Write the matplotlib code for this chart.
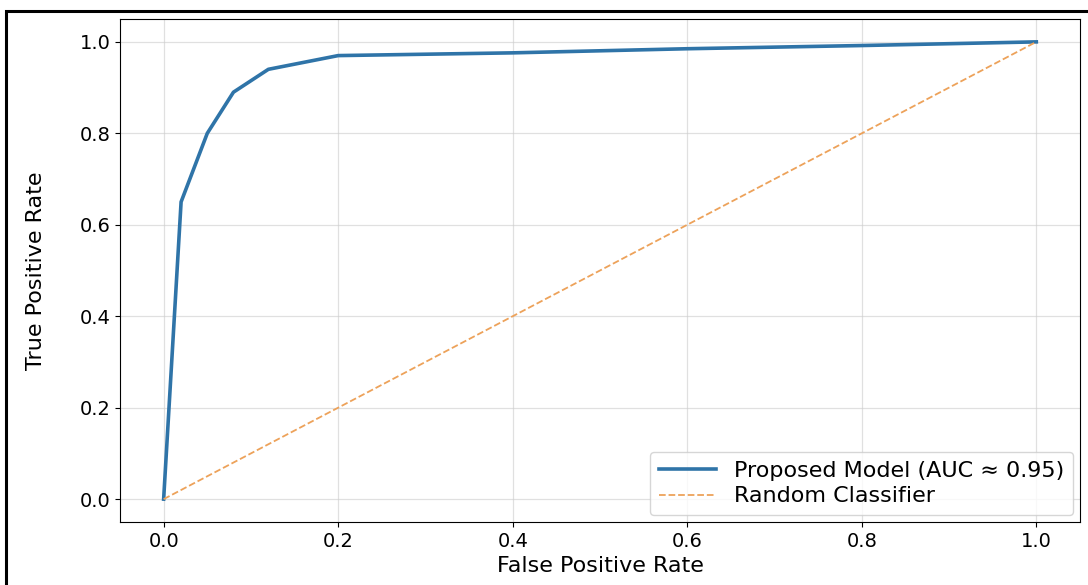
import matplotlib.pyplot as plt
from matplotlib.patches import Rectangle

# ROC curve points
fpr = [0.0, 0.02, 0.05, 0.08, 0.12, 0.20, 0.40, 0.60, 0.80, 1.0]
tpr = [0.0, 0.65, 0.80, 0.89, 0.94, 0.97, 0.976, 0.985, 0.992, 1.0]
chance = [0.0, 1.0]

model_label = 'Proposed Model (AUC \u2248 0.95)'
chance_label = 'Random Classifier'

fig = plt.figure(figsize=(10.88, 5.85), dpi=100)
ax = fig.add_axes([0.1103, 0.1077, 0.8823, 0.8598])

ax.plot(fpr, tpr, color='#2f74a8', linewidth=2.6, label=model_label)
ax.plot(chance, chance, color='#eda25a', linestyle='--', linewidth=1.3, label=chance_label)

ax.set_xlabel('False Positive Rate', fontsize=16, labelpad=4)
ax.set_ylabel('True Positive Rate', fontsize=16, labelpad=24)
ax.tick_params(labelsize=14)
ax.grid(True, color='#cccccc', alpha=0.6, linewidth=0.9)

ax.legend(loc='lower right', fontsize=16, handlelength=2.6, framealpha=0.8,
          borderaxespad=0.3, labelspacing=0.25)

# black frame like the cropped screenshot (left and top edges)
fig.patches.append(Rectangle((6 / 1088, -0.1), 2, 1 - 11 / 585 + 0.1, transform=fig.transFigure,
                             fill=False, edgecolor='black', linewidth=2.2))

fig.savefig('out.png', dpi=100)
